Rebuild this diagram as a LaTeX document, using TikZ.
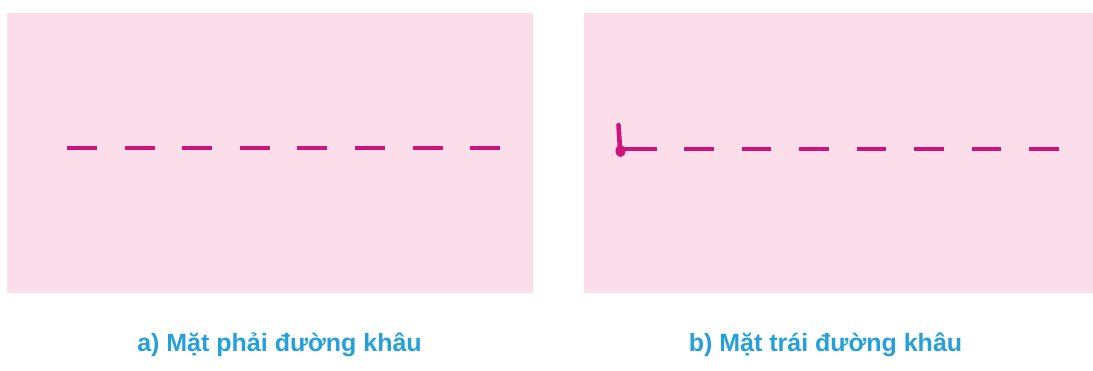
\documentclass[tikz,border=0pt]{standalone}
\usepackage{fontspec}
\setmainfont{Liberation Sans}
\definecolor{panelpink}{RGB}{252,222,234}
\definecolor{stitch}{RGB}{205,20,122}
\definecolor{capblue}{RGB}{38,160,218}
\begin{document}
\begin{tikzpicture}[x=1pt,y=-1pt,
  panel/.style={fill=panelpink,draw=none},
  stitchline/.style={draw=stitch,line width=4.8pt},
  caption/.style={text=capblue,font=\fontsize{25}{29}\selectfont\bfseries,inner sep=0pt,anchor=base}]
\useasboundingbox (0,0) rectangle (1093,370);
\fill[white] (0,0) rectangle (1093,370);
% panels
\path[panel] (7,13) rectangle (533,293);
\path[panel] (584,13) rectangle (1093,293);
% left: right side of seam
\coordinate (la) at (67,148);
\coordinate (lb) at (500.5,148);
\draw[stitchline,dash pattern=on 30pt off 27.6pt] (la) -- (lb);
% right: wrong side of seam with knot
\coordinate (kt) at (618.5,125);
\coordinate (kb) at (620,149);
\coordinate (ke) at (657,149);
\coordinate (ra) at (684,149);
\coordinate (rb) at (1059.5,149);
\draw[stitchline,line width=4.6pt,line cap=round] (kt) -- (kb);
\fill[stitch] (620.5,151) ellipse (5pt and 6pt);
\draw[stitchline] (kb) -- (ke);
\draw[stitchline,dash pattern=on 29.5pt off 28pt] (ra) -- (rb);
% captions
\node[caption] (capa) at (279.5,351) {a) Mặt phải đường khâu};
\node[caption] (capb) at (825.5,351) {b) Mặt trái đường khâu};
\end{tikzpicture}
\end{document}
